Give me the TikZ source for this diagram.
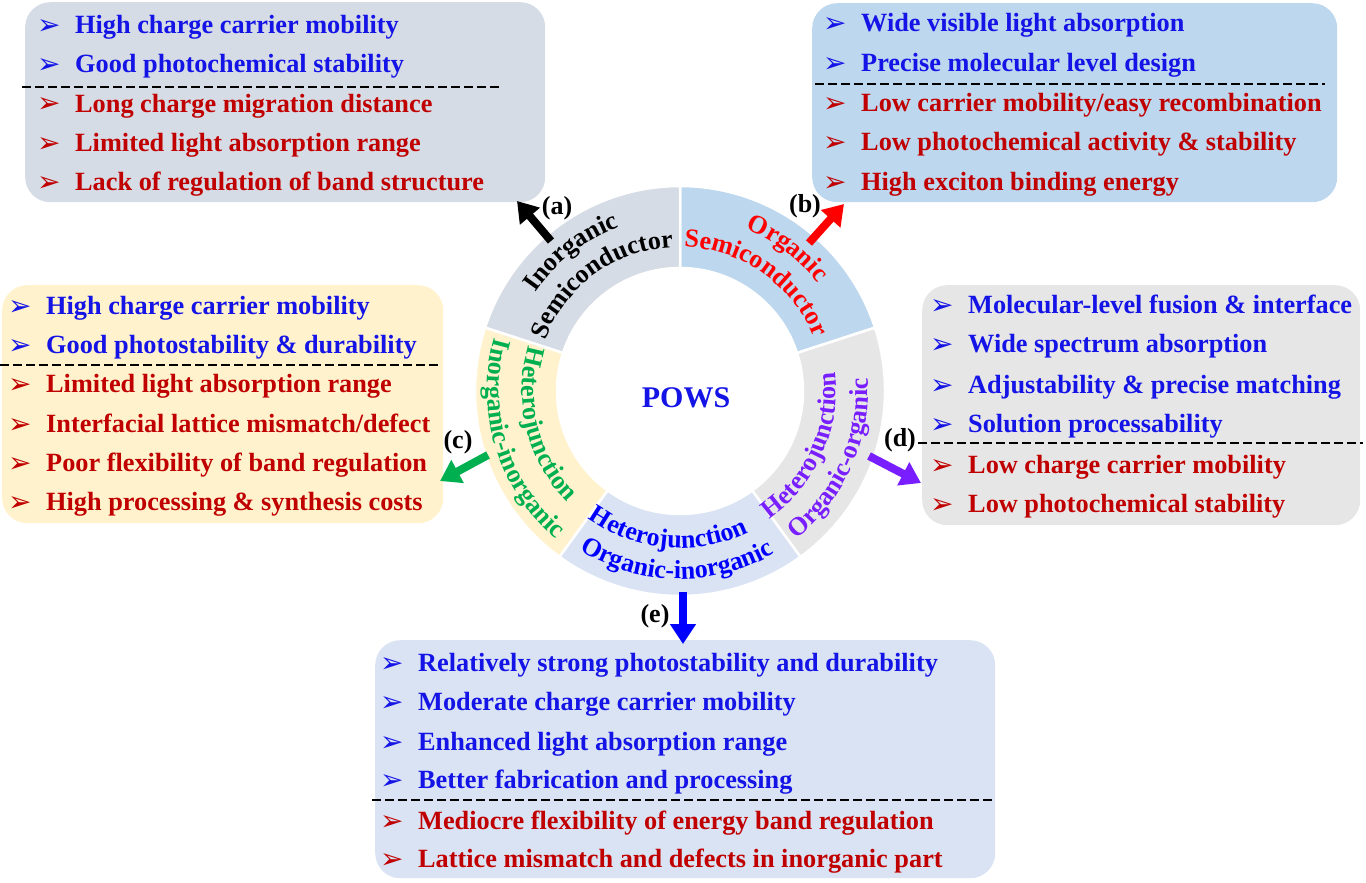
\documentclass[tikz,border=0pt]{standalone}
\usepackage{fontspec}
\setmainfont{Liberation Serif}
\newfontfamily\dejavu{DejaVu Sans}
\usetikzlibrary{arrows.meta,decorations.text}
\definecolor{tblue}{RGB}{20,20,230}
\definecolor{tred}{RGB}{192,0,0}
\definecolor{cA}{HTML}{D6DCE5}
\definecolor{cB}{HTML}{BDD7EE}
\definecolor{cC}{HTML}{FFF2CC}
\definecolor{cD}{HTML}{E7E6E6}
\definecolor{cE}{HTML}{DAE3F3}
\definecolor{rgreen}{HTML}{00B050}
\definecolor{rpurple}{RGB}{120,30,255}
\definecolor{rblue}{RGB}{0,0,255}
\definecolor{rred}{RGB}{255,0,0}
\newcommand\boxfont{\fontsize{26.3}{30}\selectfont\bfseries}
\newcommand\ringfont{\fontsize{26}{26}\selectfont\bfseries}
\newcommand\bul[1]{\makebox[38pt][l]{\raisebox{-1pt}{\textcolor{#1}{\dejavu\fontsize{28}{28}\selectfont ➢}}}}
\newcommand\pitem[1]{\bul{tblue}\textcolor{tblue}{#1}}
\newcommand\nitem[1]{\bul{tred}\textcolor{tred}{#1}}
\tikzset{
  panel/.style={rounded corners=25pt, inner sep=0pt, draw=none, anchor=north west},
  rowtxt/.style={anchor=base west, inner sep=0pt, font=\boxfont},
  sep/.style={draw=black, line width=2.8pt, dash pattern=on 9pt off 4pt},
  seg/.style={draw=white, line width=2.5pt},
  bigarrow/.style={line width=8pt, -{Triangle[width=25pt,length=20pt]}},
  lab/.style={inner sep=0pt, font=\fontsize{26}{26}\selectfont\bfseries},
}
\begin{document}
\begin{tikzpicture}[x=1pt,y=1pt]
\useasboundingbox (0,0) rectangle (1366,-883);

% panels
\node[panel, fill=cA, minimum width=520pt, minimum height=200pt] (boxA) at (25,-2) {};
\node[panel, fill=cB, minimum width=525pt, minimum height=199pt] (boxB) at (812,-3) {};
\node[panel, fill=cC, minimum width=441pt, minimum height=238pt] (boxC) at (2,-285) {};
\node[panel, fill=cD, minimum width=438pt, minimum height=240pt] (boxD) at (922,-285) {};
\node[panel, fill=cE, minimum width=620pt, minimum height=238pt] (boxE) at (375,-640) {};

% box A
\node[rowtxt] (a1) at (37,-34) {\pitem{High charge carrier mobility}};
\node[rowtxt] (a2) at (37,-73) {\pitem{Good photochemical stability}};
\node[rowtxt] (a3) at (37,-112) {\nitem{Long charge migration distance}};
\node[rowtxt] (a4) at (37,-151) {\nitem{Limited light absorption range}};
\node[rowtxt] (a5) at (37,-190) {\nitem{Lack of regulation of band structure}};
\draw[sep] (22,-87) -- (500,-87);

% box B
\node[rowtxt] (b1) at (823,-32) {\pitem{Wide visible light absorption}};
\node[rowtxt] (b2) at (823,-72) {\pitem{Precise molecular level design}};
\node[rowtxt] (b3) at (823,-111) {\nitem{Low carrier mobility/easy recombination}};
\node[rowtxt] (b4) at (823,-150) {\nitem{Low photochemical activity \& stability}};
\node[rowtxt] (b5) at (823,-190) {\nitem{High exciton binding energy}};
\draw[sep] (815,-84) -- (1325,-84);

% box C
\node[rowtxt] (c1) at (8,-314) {\pitem{High charge carrier mobility}};
\node[rowtxt] (c2) at (8,-353) {\pitem{Good photostability \& durability}};
\node[rowtxt] (c3) at (8,-392) {\nitem{Limited light absorption range}};
\node[rowtxt] (c4) at (8,-432) {\nitem{Interfacial lattice mismatch/defect}};
\node[rowtxt] (c5) at (8,-471) {\nitem{Poor flexibility of band regulation}};
\node[rowtxt] (c6) at (8,-510) {\nitem{High processing \& synthesis costs}};
\draw[sep] (0,-365) -- (440,-365);

% box D
\node[rowtxt] (d1) at (930,-313) {\pitem{Molecular-level fusion \& interface}};
\node[rowtxt] (d2) at (930,-352) {\pitem{Wide spectrum absorption}};
\node[rowtxt] (d3) at (930,-393) {\pitem{Adjustability \& precise matching}};
\node[rowtxt] (d4) at (930,-432) {\pitem{Solution processability}};
\node[rowtxt] (d5) at (930,-473) {\nitem{Low charge carrier mobility}};
\node[rowtxt] (d6) at (930,-512) {\nitem{Low photochemical stability}};
\draw[sep] (918,-443) -- (1363,-443);

% box E
\node[rowtxt] (e1) at (380,-671) {\pitem{Relatively strong photostability and durability}};
\node[rowtxt] (e2) at (380,-710) {\pitem{Moderate charge carrier mobility}};
\node[rowtxt] (e3) at (380,-750) {\pitem{Enhanced light absorption range}};
\node[rowtxt] (e4) at (380,-788) {\pitem{Better fabrication and processing}};
\node[rowtxt] (e5) at (380,-829) {\nitem{Mediocre flexibility of energy band regulation}};
\node[rowtxt] (e6) at (380,-867) {\nitem{Lattice mismatch and defects in inorganic part}};
\draw[sep] (372,-800) -- (995,-800);

% ring
\begin{scope}[shift={(680,-391)}]
\filldraw[seg, fill=cB] (18:123) -- (18:205) arc[start angle=18,end angle=90,radius=205pt] -- (90:123) arc[start angle=90,end angle=18,radius=123pt] -- cycle;
\filldraw[seg, fill=cA] (90:123) -- (90:205) arc[start angle=90,end angle=162,radius=205pt] -- (162:123) arc[start angle=162,end angle=90,radius=123pt] -- cycle;
\filldraw[seg, fill=cC] (162:123) -- (162:205) arc[start angle=162,end angle=234,radius=205pt] -- (234:123) arc[start angle=234,end angle=162,radius=123pt] -- cycle;
\filldraw[seg, fill=cE] (234:123) -- (234:205) arc[start angle=234,end angle=306,radius=205pt] -- (306:123) arc[start angle=306,end angle=234,radius=123pt] -- cycle;
\filldraw[seg, fill=cD] (306:123) -- (306:205) arc[start angle=306,end angle=378,radius=205pt] -- (378:123) arc[start angle=378,end angle=306,radius=123pt] -- cycle;

% ring texts
\path[decorate, decoration={text along path, text={|\ringfont|Inorganic}, text align=center, text color=black}]
  (168:175) arc[start angle=168, end angle=88, radius=175pt];
\path[decorate, decoration={text along path, text={|\ringfont|Semiconductor}, text align=center, text color=black}]
  (166:144) arc[start angle=166, end angle=86, radius=144pt];
\path[decorate, decoration={text along path, text={|\ringfont|Organic}, text align=center, text color=rred}]
  (93:175) arc[start angle=93, end angle=13, radius=175pt];
\path[decorate, decoration={text along path, text={|\ringfont|Semiconductor}, text align=center, text color=rred}]
  (95:144) arc[start angle=95, end angle=15, radius=144pt];
\path[decorate, decoration={text along path, text={|\ringfont|Inorganic-inorganic}, text align=center, text color=rgreen}]
  (157:193) arc[start angle=157, end angle=237, radius=193pt];
\path[decorate, decoration={text along path, text={|\ringfont|Heterojunction}, text align=center, text color=rgreen}]
  (154:158) arc[start angle=154, end angle=234, radius=158pt];
\path[decorate, decoration={text along path, text={|\ringfont|Organic-inorganic}, text align=center, text color=rblue}]
  (229:188) arc[start angle=229, end angle=309, radius=188pt];
\path[decorate, decoration={text along path, text={|\ringfont|Heterojunction}, text align=center, text color=rblue}]
  (225:157) arc[start angle=225, end angle=305, radius=157pt];
\path[decorate, decoration={text along path, text={|\ringfont|Organic-organic}, text align=center, text color=rpurple}]
  (296:188) arc[start angle=296, end angle=376, radius=188pt];
\path[decorate, decoration={text along path, text={|\ringfont|Heterojunction}, text align=center, text color=rpurple}]
  (296:156) arc[start angle=296, end angle=376, radius=156pt];
\end{scope}

\node[text=tblue, inner sep=0pt, font=\fontsize{30}{30}\selectfont\bfseries] (pows) at (686,-398) {POWS};

% arrows
\coordinate (aS) at (551,-241); \coordinate (aE) at (517,-201);
\coordinate (bS) at (809,-243); \coordinate (bE) at (844,-204);
\coordinate (cS) at (488,-455); \coordinate (cE) at (440,-481);
\coordinate (dS) at (869,-456); \coordinate (dE) at (921,-483);
\coordinate (eS) at (683,-592); \coordinate (eE) at (683,-644);
\draw[bigarrow, black] (aS) -- (aE);
\draw[bigarrow, rred] (bS) -- (bE);
\draw[bigarrow, rgreen] (cS) -- (cE);
\draw[bigarrow, rpurple] (dS) -- (dE);
\draw[bigarrow, rblue] (eS) -- (eE);

% labels
\node[lab] (la) at (557,-208) {(a)};
\node[lab] (lb) at (805,-206) {(b)};
\node[lab] (lc) at (458,-442) {(c)};
\node[lab] (ld) at (900,-440) {(d)};
\node[lab] (le) at (655,-616) {(e)};
\end{tikzpicture}
\end{document}
